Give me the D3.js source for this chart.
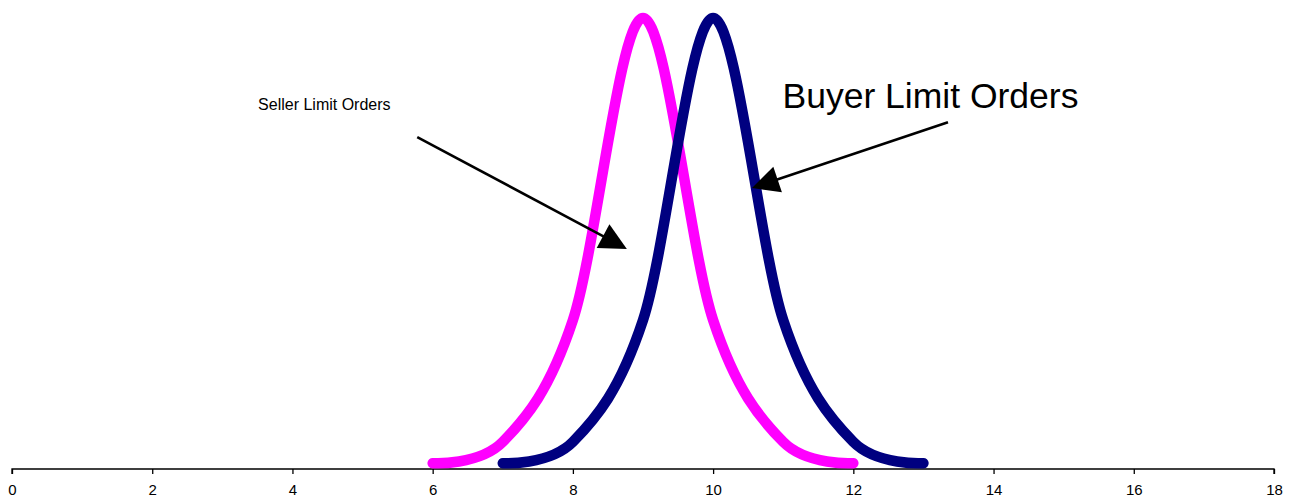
<!DOCTYPE html>
<html>
<head>
<meta charset="utf-8">
<script src="https://cdn.jsdelivr.net/npm/d3@7"></script>
<style>
  body { margin: 0; background: #fff; }
  svg { display: block; font-family: Arial, "Liberation Sans", sans-serif; }
  .tick text { font-size: 15px; fill: #000; }
</style>
</head>
<body>
<div id="chart"></div>
<script>
// Tick values of the price axis
const xTicks = [0, 2, 4, 6, 8, 10, 12, 14, 16, 18];

// Seller limit orders (pink)
const sellerPrice = [6, 7, 8, 9, 10, 11, 12];
const sellerOrders = [0.013, 0.06, 0.33, 1, 0.33, 0.06, 0.013];

// Buyer limit orders (navy)
const buyerPrice = [7, 8, 9, 10, 11, 12, 13];
const buyerOrders = [0.013, 0.06, 0.33, 1, 0.33, 0.06, 0.013];

// Annotation labels and arrows, in data units
const labels = ["Seller Limit Orders", "Buyer Limit Orders"];
const labelAt = [[3.51, 0.796], [10.99, 0.8]];
const arrowFrom = [[5.78, 0.736], [13.35, 0.769]];
const arrowTo = [[8.77, 0.488], [10.555, 0.623]];

const width = 1300, height = 501;

const svg = d3.select("#chart")
    .append("svg")
    .attr("width", width)
    .attr("height", height);

const x = d3.scaleLinear().domain([0, 18]).range([12, 1274]);
const y = d3.scaleLinear().domain([0, 1]).range([469, 18]);

// x axis
const axis = svg.append("g")
    .attr("transform", `translate(0, ${y(0)})`)
    .call(d3.axisBottom(x).tickValues(xTicks).tickSize(5).tickPadding(10).tickFormat(d3.format("d")));
axis.attr("font-family", "Arial, 'Liberation Sans', sans-serif");
axis.select(".domain").attr("stroke", "#000").attr("stroke-width", 1.3)
    .attr("d", `M${x(0)},5V0H${x(18)}V5`);
axis.selectAll(".tick line").attr("stroke", "#000").attr("stroke-width", 1.3);

// smoothed lines, like the spreadsheet "smoothed line" option
const line = d3.line()
    .x(d => x(d[0]))
    .y(d => y(d[1]))
    .curve(d3.curveCardinal.tension(0));

const series = [
    { px: sellerPrice, v: sellerOrders, color: "#ff00ff" },
    { px: buyerPrice, v: buyerOrders, color: "#000080" }
];

series.forEach(s => {
    svg.append("path")
        .datum(s.px.map((p, i) => [p, s.v[i]]))
        .attr("fill", "none")
        .attr("stroke", s.color)
        .attr("stroke-width", 10.5)
        .attr("stroke-linecap", "round")
        .attr("stroke-linejoin", "round")
        .attr("d", line);
});

// labels
svg.append("text")
    .attr("x", x(labelAt[0][0]))
    .attr("y", y(labelAt[0][1]))
    .style("font-size", "16px")
    .text(labels[0]);

svg.append("text")
    .attr("x", x(labelAt[1][0]))
    .attr("y", y(labelAt[1][1]))
    .style("font-size", "35.5px")
    .text(labels[1]);

// arrows with filled triangle heads
const headLen = 27, headHalf = 13.5;
arrowFrom.forEach((from, i) => {
    const x0 = x(from[0]), y0 = y(from[1]);
    const x1 = x(arrowTo[i][0]), y1 = y(arrowTo[i][1]);
    const len = Math.hypot(x1 - x0, y1 - y0);
    const ux = (x1 - x0) / len, uy = (y1 - y0) / len;
    const bx = x1 - ux * headLen, by = y1 - uy * headLen;

    svg.append("line")
        .attr("x1", x0).attr("y1", y0)
        .attr("x2", bx + ux * 2).attr("y2", by + uy * 2)
        .attr("stroke", "#000")
        .attr("stroke-width", 2.6);

    svg.append("path")
        .attr("d", `M${x1},${y1}L${bx - uy * headHalf},${by + ux * headHalf}L${bx + uy * headHalf},${by - ux * headHalf}Z`)
        .attr("fill", "#000");
});
</script>
</body>
</html>
